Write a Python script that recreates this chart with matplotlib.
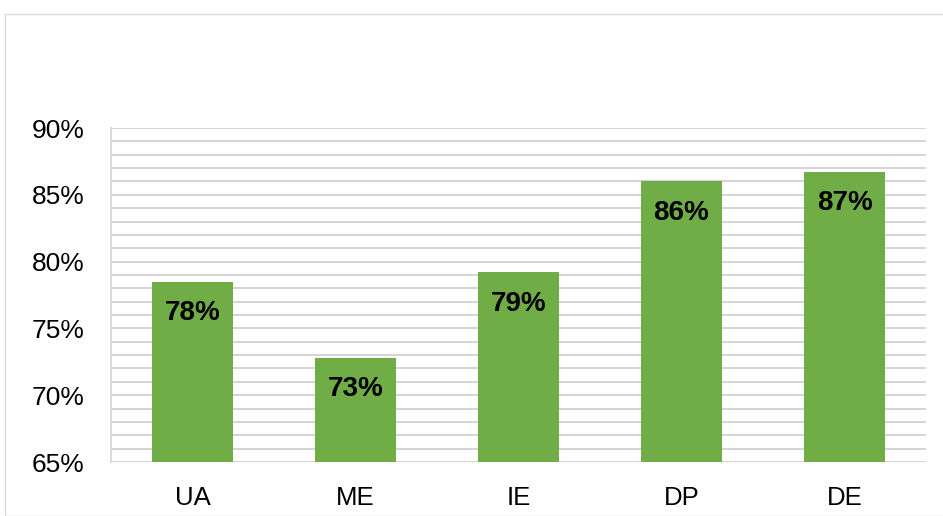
import matplotlib.pyplot as plt
import matplotlib.patches as patches
import numpy as np

plt.rcParams['font.family'] = ['Liberation Sans', 'DejaVu Sans']

categories = ['UA', 'ME', 'IE', 'DP', 'DE']
values = [78.5, 72.8, 79.2, 86.0, 86.7]
labels = ['78%', '73%', '79%', '86%', '87%']
y_ticks = [65, 70, 75, 80, 85, 90]

fig = plt.figure(figsize=(9.43, 5.16), dpi=100)
ax = fig.add_axes([111 / 943, 54 / 516, 815 / 943, 334 / 516])

# outer chart border
fig.patches.append(patches.Rectangle((5 / 943, 0), 1.0, 502 / 516, transform=fig.transFigure,
                                     fill=False, edgecolor='#d9d9d9', linewidth=1.0))

x = np.arange(len(categories))
ax.bar(x, values, width=0.5, color='#70ad47', zorder=3)
ax.set_xlim(-0.5, len(categories) - 0.5)
ax.set_ylim(65, 90)

for i, (v, lab) in enumerate(zip(values, labels)):
    ax.annotate(lab, (i, v), xytext=(0, -22.5), textcoords='offset points',
                ha='center', va='center', fontsize=20, fontweight='bold', color='black', zorder=4)

# gridlines every 1%
for yv in range(65, 91):
    ax.axhline(yv, color='#d4d4d4', linewidth=1.4, zorder=1)

ax.set_yticks(y_ticks)
ax.set_yticklabels([f'{t}%' for t in y_ticks], fontsize=19)
ax.set_xticks(x)
ax.set_xticklabels(categories, fontsize=18.5)
ax.tick_params(length=0)
ax.tick_params(axis='y', pad=19)
ax.tick_params(axis='x', pad=17.5)

for s in ['top', 'right', 'bottom']:
    ax.spines[s].set_visible(False)
ax.spines['left'].set_color('#d9d9d9')
ax.spines['left'].set_linewidth(1.4)

fig.savefig('out.png', dpi=100)
